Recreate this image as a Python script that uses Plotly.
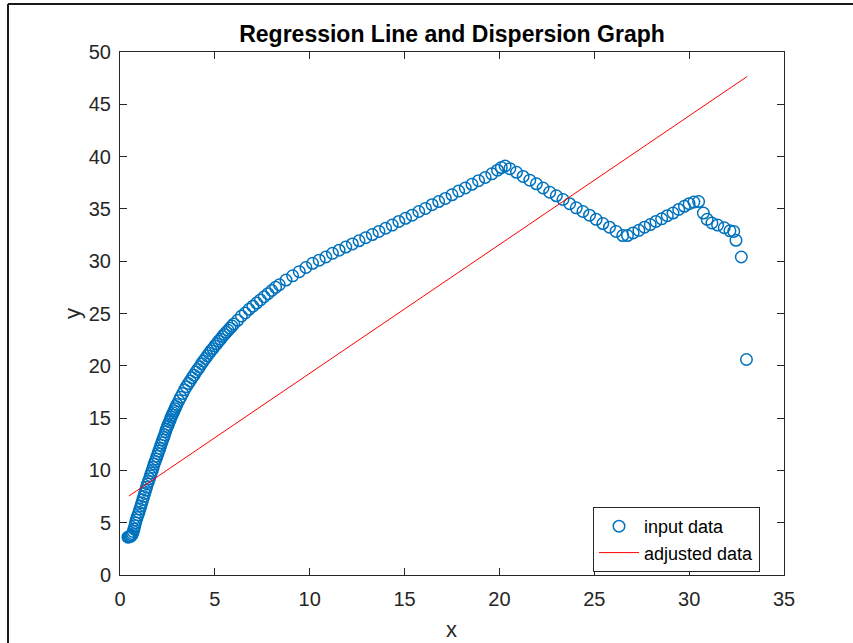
import plotly.graph_objects as go

x_data = [0.42, 0.47, 0.52, 0.57, 0.62, 0.66, 0.70, 0.74, 0.78, 0.82, 0.86, 0.90, 0.95,
          1.00, 1.05, 1.10, 1.15, 1.20, 1.25, 1.30, 1.35, 1.40, 1.45, 1.50, 1.55, 1.60,
          1.65, 1.70, 1.75, 1.80, 1.85, 1.90, 1.95, 2.00, 2.05, 2.10, 2.15, 2.20, 2.25,
          2.30, 2.35, 2.40, 2.45, 2.50, 2.55, 2.60, 2.65, 2.70, 2.75, 2.80, 2.85, 2.90,
          2.95, 3.00, 3.10, 3.20, 3.30, 3.40, 3.50, 3.60, 3.70, 3.80, 3.90, 4.00, 4.10,
          4.20, 4.30, 4.40, 4.50, 4.60, 4.70, 4.80, 4.90, 5.00, 5.10, 5.20, 5.30, 5.40,
          5.50, 5.60, 5.70, 5.80, 5.90, 6.00, 6.20, 6.40, 6.60, 6.80, 7.00, 7.20, 7.40,
          7.60, 7.80, 8.00, 8.20, 8.40, 8.75, 9.10, 9.45, 9.80, 10.15, 10.50, 10.85,
          11.20, 11.55, 11.90, 12.25, 12.60, 12.95, 13.30, 13.65, 14.00, 14.35, 14.70,
          15.05, 15.40, 15.75, 16.10, 16.45, 16.80, 17.15, 17.50, 17.85, 18.20, 18.55,
          18.90, 19.25, 19.60, 19.90, 20.10, 20.30, 20.55, 20.90, 21.25, 21.60, 21.95,
          22.30, 22.65, 23.00, 23.35, 23.70, 24.05, 24.40, 24.75, 25.10, 25.45, 25.80,
          26.15, 26.50, 26.75, 27.05, 27.35, 27.65, 27.95, 28.25, 28.55, 28.85, 29.15,
          29.45, 29.75, 30.00, 30.25, 30.50, 30.75, 30.95, 31.20, 31.50, 31.85, 32.15,
          32.35, 32.47, 32.75, 33.02]
y_data = [3.62, 3.65, 3.68, 3.72, 3.80, 3.95, 4.15, 4.40, 4.70, 5.00, 5.25, 5.50, 5.75,
          6.00, 6.30, 6.60, 6.90, 7.20, 7.50, 7.80, 8.10, 8.40, 8.70, 8.95, 9.20, 9.50,
          9.75, 10.00, 10.30, 10.60, 10.85, 11.10, 11.35, 11.60, 11.85, 12.10, 12.40,
          12.65, 12.90, 13.15, 13.40, 13.70, 13.95, 14.20, 14.40, 14.65, 14.85, 15.10,
          15.30, 15.50, 15.70, 15.90, 16.10, 16.30, 16.65, 17.00, 17.35, 17.70, 18.00,
          18.30, 18.55, 18.85, 19.10, 19.40, 19.65, 19.90, 20.20, 20.45, 20.70, 20.95,
          21.20, 21.45, 21.65, 21.90, 22.10, 22.35, 22.55, 22.80, 23.00, 23.20, 23.40,
          23.60, 23.80, 24.00, 24.35, 24.75, 25.05, 25.40, 25.70, 26.00, 26.30, 26.60,
          26.90, 27.20, 27.50, 27.75, 28.20, 28.60, 29.00, 29.40, 29.80, 30.10, 30.40,
          30.75, 31.05, 31.35, 31.65, 31.95, 32.25, 32.55, 32.85, 33.15, 33.45, 33.80,
          34.10, 34.40, 34.75, 35.05, 35.40, 35.70, 36.00, 36.35, 36.70, 37.00, 37.35,
          37.70, 38.00, 38.35, 38.70, 38.95, 39.10, 38.85, 38.50, 38.10, 37.75, 37.40,
          37.00, 36.60, 36.25, 35.90, 35.50, 35.10, 34.75, 34.40, 34.00, 33.60, 33.25,
          32.85, 32.45, 32.45, 32.70, 32.95, 33.25, 33.50, 33.80, 34.05, 34.35, 34.60,
          34.95, 35.25, 35.50, 35.65, 35.70, 34.60, 34.00, 33.65, 33.45, 33.20, 32.90,
          32.85, 32.00, 30.40, 20.60]

# regression line end points
fit_x = [0.47, 33.05]
fit_y = [7.55, 47.65]

x_ticks = [0, 5, 10, 15, 20, 25, 30, 35]
y_ticks = [0, 5, 10, 15, 20, 25, 30, 35, 40, 45, 50]

axis_col = "#262626"

fig = go.Figure()
fig.add_trace(go.Scatter(x=x_data, y=y_data, mode="markers", name="input data",
                         marker=dict(symbol="circle-open", size=11.5, color="#0072BD",
                                     line=dict(width=1.5, color="#0072BD"))))
fig.add_trace(go.Scatter(x=fit_x, y=fit_y, mode="lines", name="adjusted data",
                         line=dict(color="#FF0000", width=1)))

fig.update_layout(width=853, height=643,
                  margin=dict(l=120, r=69, t=52, b=68),
                  paper_bgcolor="white", plot_bgcolor="white",
                  font=dict(family="Liberation Sans, Arial", size=20, color=axis_col),
                  title=dict(text="<b>Regression Line and Dispersion Graph</b>",
                             x=0.5 * (120 + 784) / 853, xanchor="center",
                             yref="container", y=1 - 34 / 643, yanchor="middle",
                             font=dict(size=23, color="black")),
                  showlegend=True,
                  legend=dict(x=(760 - 120) / 664, xanchor="right",
                              y=(575 - 572) / 523, yanchor="bottom",
                              bgcolor="white", bordercolor=axis_col, borderwidth=1,
                              font=dict(size=18, color="black"), itemwidth=40,
                              tracegroupgap=0))

fig.update_xaxes(range=[0, 35], tickvals=x_ticks, ticks="inside", ticklen=7,
                 tickcolor=axis_col, showline=True, linecolor=axis_col, linewidth=1,
                 mirror="ticks", showgrid=False, zeroline=False,
                 ticklabelstandoff=6, automargin=False)
fig.update_yaxes(range=[0, 50], tickvals=y_ticks, ticks="inside", ticklen=7,
                 tickcolor=axis_col, showline=True, linecolor=axis_col, linewidth=1,
                 mirror="ticks", showgrid=False, zeroline=False,
                 ticklabelstandoff=4, automargin=False)

# axis titles
fig.add_annotation(text="x", xref="paper", yref="paper", x=(451 - 120) / 664,
                   y=(575 - 629) / 523, yanchor="middle", showarrow=False,
                   font=dict(size=22, color=axis_col))
fig.add_annotation(text="y", xref="paper", yref="paper", x=(72 - 120) / 664,
                   y=(575 - 314) / 523, xanchor="center", yanchor="middle",
                   textangle=-90, showarrow=False, font=dict(size=22, color=axis_col))

# outer figure frame (left and top edges visible)
fig.add_shape(type="line", xref="paper", yref="paper",
              x0=(8 - 120) / 664, x1=(8 - 120) / 664, y0=(575 - 650) / 523, y1=(575 - 4) / 523,
              line=dict(color="#1a1a1a", width=2))
fig.add_shape(type="line", xref="paper", yref="paper",
              x0=(8 - 120) / 664, x1=(860 - 120) / 664, y0=(575 - 4) / 523, y1=(575 - 4) / 523,
              line=dict(color="#1a1a1a", width=2))

# drop the default page margin so the figure sits at the window's top-left corner
fig.write_html("out.html", config={"displayModeBar": False},
               post_script="document.body.style.margin='0';")
